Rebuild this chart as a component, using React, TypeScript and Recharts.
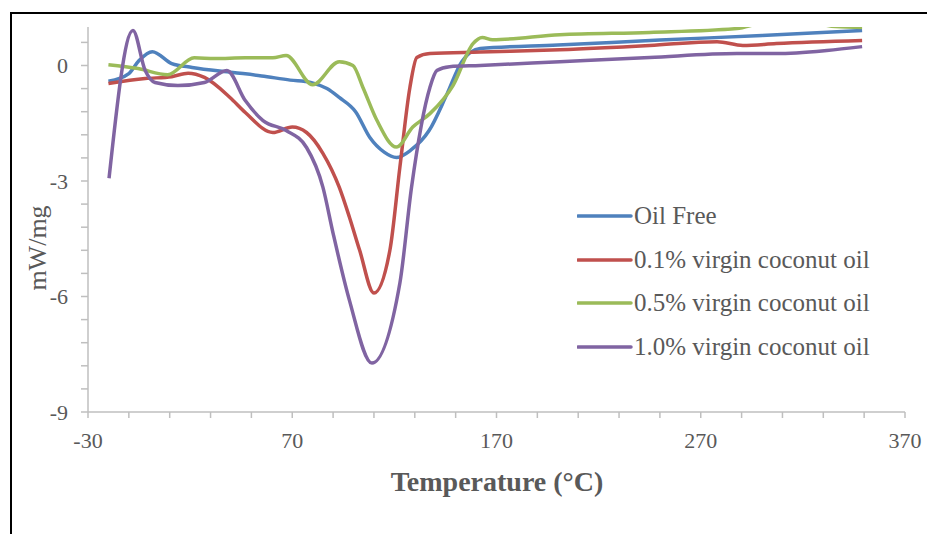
import React from "react";
import { LineChart, Line, XAxis, YAxis, Legend } from "recharts";

const FONT = "'Liberation Serif', 'DejaVu Serif', serif";

// temperatures (°C) and heat flow (mW/mg)
const oilFreeT = [-20, -10, -5, 1.5, 11, 21, 41, 55, 69, 79, 87, 93, 101, 108, 115, 121, 128, 137, 145.7, 153, 162, 200, 250, 300, 349];
const oilFreeV = [-0.41, -0.21, 0.13, 0.36, 0.05, -0.05, -0.18, -0.27, -0.38, -0.44, -0.6, -0.83, -1.2, -1.87, -2.25, -2.39, -2.2, -1.69, -0.75, 0.1, 0.44, 0.53, 0.66, 0.78, 0.91];

const vco01T = [-20, -2, 11, 19, 27, 39.5, 47, 60.5, 70, 77, 85, 93, 98, 103, 110, 117.8, 122.7, 127.6, 131, 137.4, 162, 201, 245, 278, 290.6, 307, 349];
const vco01V = [-0.47, -0.34, -0.29, -0.2, -0.31, -0.83, -1.22, -1.74, -1.6, -1.74, -2.28, -3.16, -3.94, -4.8, -5.91, -4.8, -2.64, -0.57, 0.21, 0.31, 0.35, 0.41, 0.52, 0.62, 0.52, 0.57, 0.65];

const vco05T = [-20, -5.5, 9, 22, 32, 47, 60.5, 67, 80, 93, 99.7, 104.6, 111.5, 121, 129, 137.4, 148.7, 158.5, 163, 168, 201, 245, 287.7, 300, 320, 336, 349];
const vco05V = [0.02, -0.08, -0.24, 0.2, 0.18, 0.2, 0.2, 0.26, -0.5, 0.1, 0.0, -0.57, -1.43, -2.12, -1.6, -1.25, -0.52, 0.57, 0.73, 0.67, 0.8, 0.86, 0.96, 1.1, 1.15, 1.01, 0.99];

const vco10T = [-19.7, -8, -2, 2.8, 14, 27, 38, 47, 55.7, 67, 77, 85, 90, 98, 109, 122.7, 128.4, 137.4, 140.8, 147, 162, 201, 245, 287.7, 307, 331.7, 349];
const vco10V = [-2.93, 0.91, -0.13, -0.44, -0.52, -0.44, -0.13, -0.91, -1.43, -1.69, -2.13, -3.16, -4.36, -6.1, -7.73, -5.65, -3.16, -0.57, -0.13, -0.03, 0.0, 0.1, 0.21, 0.31, 0.31, 0.39, 0.49];

const xTicks = [-30, -10, 10, 30, 50, 70, 90, 110, 130, 150, 170, 190, 210, 230, 250, 270, 290, 310, 330, 350, 370];
const xLabels = [-30, 70, 170, 270, 370];
const yTicks = [-9, -8.4, -7.8, -7.2, -6.6, -6, -5.4, -4.8, -4.2, -3.6, -3, -2.4, -1.8, -1.2, -0.6, 0, 0.6];
const yLabels = [-9, -6, -3, 0];

const toPoints = (t: number[], v: number[]) => t.map((x, i) => ({ x, y: v[i] }));

const series = [
  { name: "Oil Free", color: "#4F81BD", data: toPoints(oilFreeT, oilFreeV) },
  { name: "0.1% virgin coconut oil", color: "#C0504D", data: toPoints(vco01T, vco01V) },
  { name: "0.5% virgin coconut oil", color: "#9BBB59", data: toPoints(vco05T, vco05V) },
  { name: "1.0% virgin coconut oil", color: "#8064A2", data: toPoints(vco10T, vco10V) },
];

const LegendBox = () => (
  <div style={{ fontFamily: FONT, fontSize: 25, color: "#595959" }}>
    {series.map((s) => (
      <div key={s.name} style={{ display: "flex", alignItems: "center", height: 43.7 }}>
        <svg width={57} height={6}>
          <line x1={1} y1={3} x2={54} y2={3} stroke={s.color} strokeWidth={3.5} strokeLinecap="round" />
        </svg>
        <span>{s.name}</span>
      </div>
    ))}
  </div>
);

export default function App() {
  return (
    <div style={{ position: "absolute", left: 0, top: 0, width: 927, height: 534, overflow: "hidden", background: "#fff" }}>
      <div
        style={{
          position: "absolute",
          left: 10,
          top: 12,
          width: 1000,
          height: 1000,
          borderLeft: "2px solid #000",
          borderTop: "2px solid #000",
        }}
      />
      <LineChart
        width={927}
        height={534}
        margin={{ top: 27, right: 22, bottom: 0, left: 0 }}
        style={{ position: "absolute", left: 0, top: 0 }}
      >
        <XAxis
          type="number"
          dataKey="x"
          domain={[-30, 370]}
          ticks={xTicks}
          interval={0}
          height={122}
          tickSize={6}
          tickMargin={14}
          tickFormatter={(v: number) => (xLabels.includes(v) ? String(v) : "")}
          tick={{ fill: "#595959", fontSize: 22, fontFamily: FONT }}
          axisLine={{ stroke: "#BFBFBF", strokeWidth: 1.5 }}
          tickLine={{ stroke: "#BFBFBF", strokeWidth: 1.5 }}
          allowDataOverflow
        />
        <YAxis
          type="number"
          dataKey="y"
          domain={[-9, 1]}
          ticks={yTicks}
          interval={0}
          width={88}
          tickSize={7}
          tickMargin={13}
          tickFormatter={(v: number) => (yLabels.includes(v) ? String(v) : "")}
          tick={{ fill: "#595959", fontSize: 22, fontFamily: FONT }}
          axisLine={{ stroke: "#BFBFBF", strokeWidth: 1.5 }}
          tickLine={{ stroke: "#BFBFBF", strokeWidth: 1.5 }}
          allowDataOverflow
        />
        {series.map((s) => (
          <Line
            key={s.name}
            data={s.data}
            dataKey="y"
            name={s.name}
            type="monotone"
            stroke={s.color}
            strokeWidth={3.5}
            dot={false}
            activeDot={false}
            isAnimationActive={false}
          />
        ))}
        <Legend
          layout="vertical"
          align="center"
          verticalAlign="middle"
          content={<LegendBox />}
          wrapperStyle={{ left: 577, top: 194, width: 330 }}
        />
      </LineChart>
      <div
        style={{
          position: "absolute",
          left: 38,
          top: 248,
          transform: "translate(-50%, -50%) rotate(-90deg)",
          fontFamily: FONT,
          fontSize: 26,
          color: "#595959",
          whiteSpace: "nowrap",
        }}
      >
        mW/mg
      </div>
      <div
        style={{
          position: "absolute",
          left: 497,
          top: 482,
          transform: "translate(-50%, -50%)",
          fontFamily: FONT,
          fontSize: 28,
          fontWeight: "bold",
          color: "#595959",
          whiteSpace: "nowrap",
        }}
      >
        Temperature (°C)
      </div>
    </div>
  );
}
